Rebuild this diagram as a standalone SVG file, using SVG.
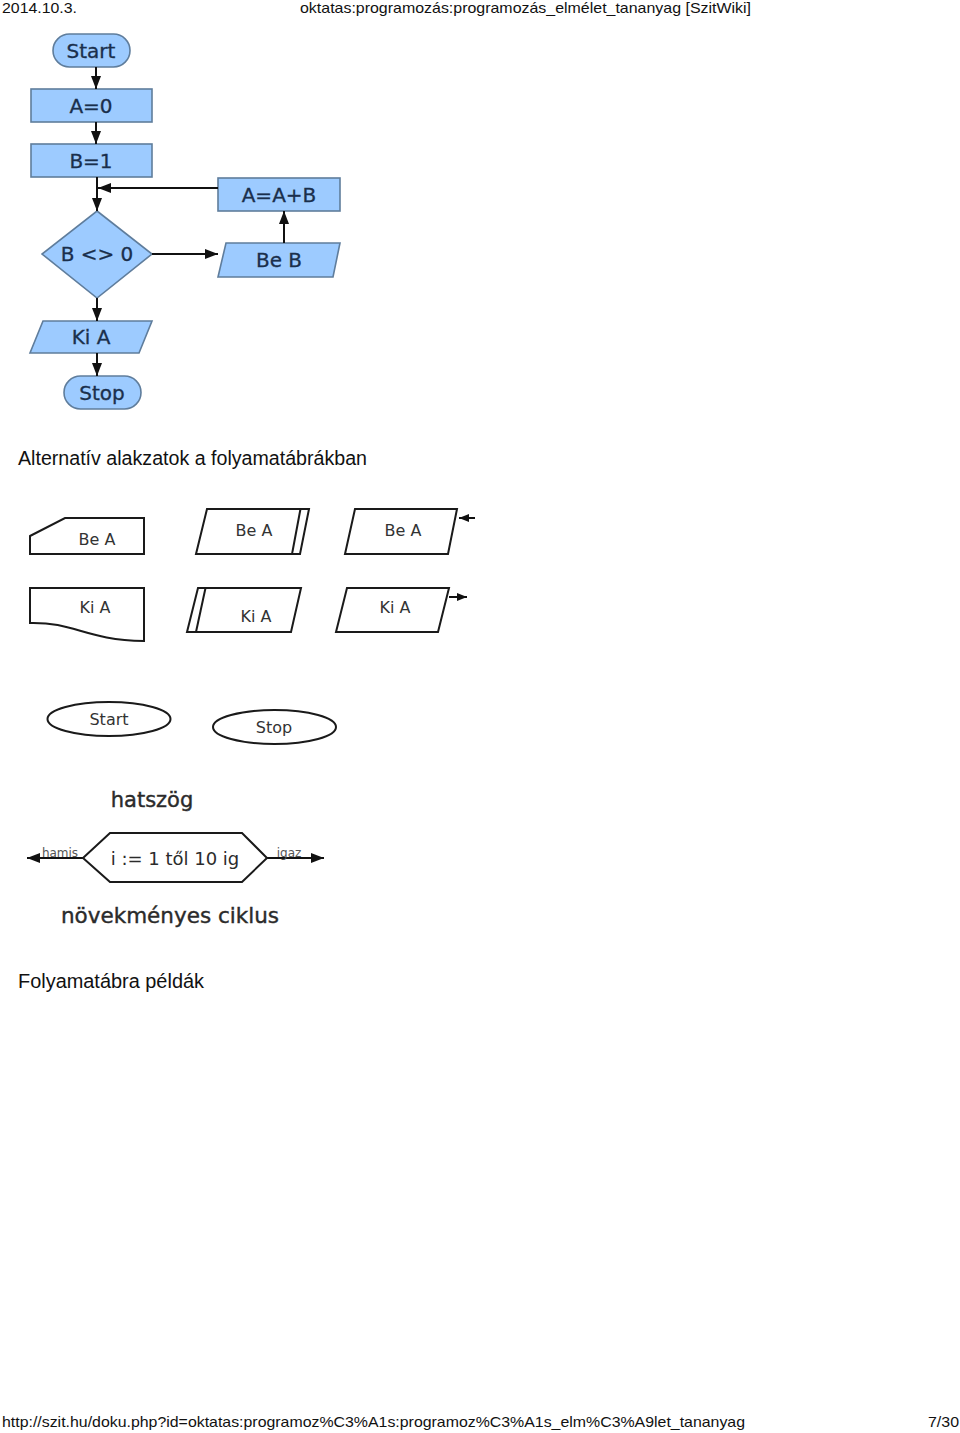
<svg xmlns="http://www.w3.org/2000/svg" width="960" height="1433" viewBox="0 0 960 1433">
<style>
.pg{font-family:"Liberation Sans",Arial,sans-serif;fill:#111}
.fc rect,.fc polygon{fill:#9dcbff;stroke:#5f7d9c;stroke-width:1.6}
.ft{font-family:"DejaVu Sans","Noto Sans",sans-serif;font-size:20px;fill:#1a2f4c;stroke:#1a2f4c;stroke-width:0.3;text-anchor:middle}
.sh{fill:#fff;stroke:#1a1a1a;stroke-width:2}
.st{font-family:"DejaVu Sans","Noto Sans",sans-serif;font-size:16px;fill:#333;text-anchor:middle}
.lt{font-family:"DejaVu Sans","Noto Sans",sans-serif;fill:#2b2b2b;text-anchor:middle}
.lb{stroke:#2b2b2b;stroke-width:0.4}
.cn{stroke:#111;stroke-width:2;fill:none}
</style>
<defs>
<marker id="ab" markerUnits="userSpaceOnUse" markerWidth="13" markerHeight="10" refX="13" refY="5" orient="auto"><path d="M0,0 L13,5 L0,10 z" fill="#111"/></marker>
<marker id="as" markerUnits="userSpaceOnUse" markerWidth="10" markerHeight="8" refX="10" refY="4" orient="auto"><path d="M0,0 L10,4 L0,8 z" fill="#111"/></marker>
</defs>
<rect width="960" height="1433" fill="#fff"/>
<text class="pg" x="2" y="12.5" font-size="15" textLength="75" lengthAdjust="spacingAndGlyphs">2014.10.3.</text>
<text class="pg" x="300" y="12.5" font-size="15" textLength="451" lengthAdjust="spacingAndGlyphs">oktatas:programozás:programozás_elmélet_tananyag [SzitWiki]</text>
<g id="flowchart" class="fc">
<g id="n-start"><rect x="53" y="34" width="77" height="33" rx="16.5"/><text class="ft" x="91" y="58">Start</text></g>
<g id="n-a0"><rect x="31" y="89" width="121" height="33"/><text class="ft" x="91" y="113">A=0</text></g>
<g id="n-b1"><rect x="31" y="144" width="121" height="33"/><text class="ft" x="91" y="168">B=1</text></g>
<g id="n-aab"><rect x="218" y="178" width="122" height="33"/><text class="ft" x="279" y="202">A=A+B</text></g>
<g id="n-cond"><polygon points="97,211 152,254 97,298 42,254"/><text class="ft" x="97" y="261">B &lt;&gt; 0</text></g>
<g id="n-beb"><polygon points="226,243 340,243 333,277 218,277"/><text class="ft" x="279" y="267">Be B</text></g>
<g id="n-kia"><polygon points="43,321 152,321 139,353 30,353"/><text class="ft" x="91" y="344">Ki A</text></g>
<g id="n-stop"><rect x="64" y="376" width="77" height="33" rx="16.5"/><text class="ft" x="102" y="400">Stop</text></g>
</g>
<g id="connectors">
<path class="cn" d="M96,67 V89" marker-end="url(#ab)"/>
<path class="cn" d="M96,122 V144" marker-end="url(#ab)"/>
<path class="cn" d="M97,177 V211" marker-end="url(#ab)"/>
<path class="cn" d="M218,188 H98" marker-end="url(#ab)"/>
<path class="cn" d="M152,254 H218" marker-end="url(#ab)"/>
<path class="cn" d="M284,243 V211" marker-end="url(#ab)"/>
<path class="cn" d="M97,298 V321" marker-end="url(#ab)"/>
<path class="cn" d="M97,353 V376" marker-end="url(#ab)"/>
<path class="cn" stroke-width="1.6" d="M475,518 H459" marker-end="url(#as)"/>
<path class="cn" stroke-width="1.6" d="M449,597 H467" marker-end="url(#as)"/>
<path class="cn" d="M83,858 H27" marker-end="url(#ab)"/>
<path class="cn" d="M267,858 H324" marker-end="url(#ab)"/>
</g>
<text class="pg" x="18" y="465" font-size="20" textLength="349" lengthAdjust="spacingAndGlyphs">Alternatív alakzatok a folyamatábrákban</text>
<g id="alt-shapes">
<g id="s-bea1"><polygon class="sh" points="30,536 65,518 144,518 144,554 30,554"/><text class="st" x="97" y="545">Be A</text></g>
<g id="s-bea2"><polygon class="sh" points="207,509 309,509 300,554 196,554"/><line class="sh" x1="300.5" y1="509" x2="292" y2="554"/><text class="st" x="254" y="536">Be A</text></g>
<g id="s-bea3"><polygon class="sh" points="355,509 457,509 448,554 345,554"/><text class="st" x="403" y="536">Be A</text></g>
<g id="s-kia1"><path class="sh" d="M30,588 H144 V641 C85,640 75,622 30,623 Z"/><text class="st" x="95" y="613">Ki A</text></g>
<g id="s-kia2"><polygon class="sh" points="198,588 301,588 291,632 187,632"/><line class="sh" x1="205.5" y1="588" x2="196" y2="632"/><text class="st" x="256" y="622">Ki A</text></g>
<g id="s-kia3"><polygon class="sh" points="347,588 449,588 438,632 336,632"/><text class="st" x="395" y="613">Ki A</text></g>
<g id="s-start"><ellipse class="sh" cx="109" cy="719" rx="61.5" ry="17"/><text class="st" x="109" y="725">Start</text></g>
<g id="s-stop"><ellipse class="sh" cx="274.5" cy="727" rx="61.5" ry="17"/><text class="st" x="274" y="733">Stop</text></g>
<text class="lt lb" x="152" y="807" font-size="21">hatszög</text>
<g id="s-hex"><polygon class="sh" points="83,858 110,833 242,833 267,858 242,882 110,882"/><text class="lt" x="175" y="865" font-size="18">i := 1 től 10 ig</text></g>
<text class="lt" x="60" y="856.5" font-size="12" style="fill:#555">hamis</text>
<text class="lt" x="289" y="856.5" font-size="12" style="fill:#555">igaz</text>
<text class="lt lb" x="170" y="923" font-size="21.5">növekményes ciklus</text>
</g>
<text class="pg" x="18" y="988" font-size="20" textLength="186" lengthAdjust="spacingAndGlyphs">Folyamatábra példák</text>
<text class="pg" x="2" y="1427" font-size="15" textLength="743" lengthAdjust="spacingAndGlyphs">http://szit.hu/doku.php?id=oktatas:programoz%C3%A1s:programoz%C3%A1s_elm%C3%A9let_tananyag</text>
<text class="pg" x="928" y="1427" font-size="15" textLength="31" lengthAdjust="spacingAndGlyphs">7/30</text>
</svg>
